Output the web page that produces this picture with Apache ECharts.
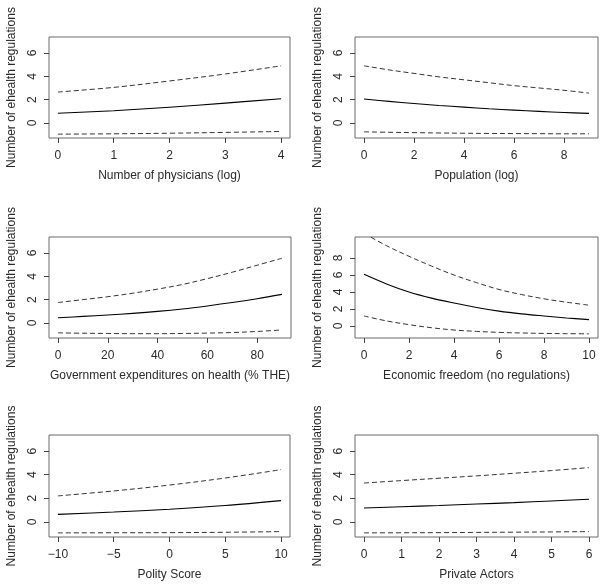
<!DOCTYPE html>
<html>
<head>
<meta charset="utf-8">
<script src="https://cdn.jsdelivr.net/npm/echarts@6/dist/echarts.min.js"></script>
<style>
html,body{margin:0;padding:0;background:#fff;}
#chart{width:600px;height:585px;}
</style>
</head>
<body>
<div id="chart"></div>
<script>
// ---- Data ----
const yTitle = "Number of ehealth regulations";

const physX = [0, 1, 2, 3, 4];
const physFit = [0.83, 1.05, 1.35, 1.7, 2.08];
const physUpper = [2.65, 3.05, 3.6, 4.2, 4.9];
const physLower = [-0.96, -0.93, -0.88, -0.81, -0.73];
const physTicks = [0, 1, 2, 3, 4];

const popX = [0, 1, 2, 3, 4, 5, 6, 7, 8, 9];
const popFit = [2.05, 1.85, 1.67, 1.5, 1.36, 1.22, 1.1, 0.99, 0.9, 0.82];
const popUpper = [4.9, 4.55, 4.25, 3.95, 3.7, 3.45, 3.2, 3.0, 2.8, 2.56];
const popLower = [-0.76, -0.8, -0.83, -0.86, -0.88, -0.9, -0.91, -0.92, -0.93, -0.93];
const popTicks = [0, 2, 4, 6, 8];

const govX = [0, 10, 20, 30, 40, 50, 60, 70, 80, 90];
const govFit = [0.45, 0.56, 0.68, 0.82, 0.99, 1.2, 1.46, 1.75, 2.08, 2.45];
const govUpper = [1.75, 2.0, 2.25, 2.55, 2.9, 3.3, 3.8, 4.35, 4.95, 5.55];
const govLower = [-0.85, -0.88, -0.9, -0.92, -0.92, -0.9, -0.87, -0.82, -0.73, -0.6];
const govTicks = [0, 20, 40, 60, 80];

const econX = [0, 1, 2, 3, 4, 5, 6, 7, 8, 9, 10];
const econFit = [6.08, 4.95, 4.0, 3.28, 2.7, 2.18, 1.75, 1.43, 1.18, 0.95, 0.75];
const econUpper = [10.9, 9.45, 8.2, 7.05, 6.0, 5.1, 4.3, 3.7, 3.2, 2.8, 2.45];
const econLower = [1.18, 0.6, 0.16, -0.2, -0.47, -0.63, -0.75, -0.82, -0.87, -0.9, -0.92];
const econTicks = [0, 2, 4, 6, 8, 10];

const polX = [-10, -5, 0, 5, 10];
const polFit = [0.63, 0.83, 1.07, 1.38, 1.8];
const polUpper = [2.2, 2.62, 3.12, 3.72, 4.43];
const polLower = [-0.94, -0.93, -0.92, -0.89, -0.83];
const polTicks = [-10, -5, 0, 5, 10];

const privX = [0, 1, 2, 3, 4, 5, 6];
const privFit = [1.17, 1.28, 1.39, 1.51, 1.63, 1.77, 1.91];
const privUpper = [3.29, 3.5, 3.7, 3.9, 4.12, 4.35, 4.6];
const privLower = [-0.94, -0.93, -0.92, -0.9, -0.88, -0.86, -0.83];
const privTicks = [0, 1, 2, 3, 4, 5, 6];

const yTicksStd = [0, 2, 4, 6];
const yTicksEcon = [0, 2, 4, 6, 8];

const panels = [
  { name: "Number of physicians (log)", x: physX, fit: physFit, up: physUpper, lo: physLower, xt: physTicks, yt: yTicksStd,
    grid: {left: 49, top: 37, width: 241, height: 101}, xr: [-0.16, 4.16], yr: [-1.29, 7.37] },
  { name: "Population (log)", x: popX, fit: popFit, up: popUpper, lo: popLower, xt: popTicks, yt: yTicksStd,
    grid: {left: 355, top: 37, width: 243, height: 101}, xr: [-0.36, 9.36], yr: [-1.29, 7.37] },
  { name: "Government expenditures on health (% THE)", x: govX, fit: govFit, up: govUpper, lo: govLower, xt: govTicks, yt: yTicksStd,
    grid: {left: 49, top: 237, width: 242, height: 101}, xr: [-3.6, 93.6], yr: [-1.29, 7.37] },
  { name: "Economic freedom (no regulations)", x: econX, fit: econFit, up: econUpper, lo: econLower, xt: econTicks, yt: yTicksEcon,
    grid: {left: 355, top: 237, width: 243, height: 101}, xr: [-0.4, 10.4], yr: [-1.41, 10.47] },
  { name: "Polity Score", x: polX, fit: polFit, up: polUpper, lo: polLower, xt: polTicks, yt: yTicksStd,
    grid: {left: 49, top: 435, width: 241, height: 102}, xr: [-10.8, 10.8], yr: [-1.29, 7.37] },
  { name: "Private Actors", x: privX, fit: privFit, up: privUpper, lo: privLower, xt: privTicks, yt: yTicksStd,
    grid: {left: 355, top: 435, width: 243, height: 102}, xr: [-0.24, 6.24], yr: [-1.29, 7.37] }
];

const FONT = "Liberation Sans, Arial, Helvetica, sans-serif";
const TXT = "#2a2a2a";
const fmt = v => String(v).replace('-', '\u2212');

const grids = [], xAxes = [], yAxes = [], series = [];
panels.forEach((p, i) => {
  grids.push(Object.assign({ show: true, borderColor: "#6a6a6a", borderWidth: 1, backgroundColor: "transparent" }, p.grid));
  xAxes.push({
    type: "value", gridIndex: i, min: p.xr[0], max: p.xr[1], position: "bottom",
    name: p.name, nameLocation: "middle", nameGap: 32,
    nameTextStyle: { fontFamily: FONT, fontSize: 12, color: TXT },
    axisLine: { show: false, onZero: false },
    axisTick: { show: true, length: 5, lineStyle: { color: "#444" }, customValues: p.xt },
    axisLabel: { show: true, margin: 12, fontFamily: FONT, fontSize: 12, color: TXT, customValues: p.xt, formatter: fmt },
    splitLine: { show: false }
  });
  yAxes.push({
    type: "value", gridIndex: i, min: p.yr[0], max: p.yr[1], position: "left",
    name: yTitle, nameLocation: "middle", nameGap: 31, nameRotate: 90,
    nameTextStyle: { fontFamily: FONT, fontSize: 12, color: TXT },
    axisLine: { show: false, onZero: false },
    axisTick: { show: true, length: 5, lineStyle: { color: "#444" }, customValues: p.yt },
    axisLabel: { show: true, margin: 10, rotate: 90, fontFamily: FONT, fontSize: 12, color: TXT, customValues: p.yt, formatter: fmt },
    splitLine: { show: false }
  });
  const mk = (vals, dashed) => ({
    type: "line", xAxisIndex: i, yAxisIndex: i,
    data: p.x.map((xv, k) => [xv, vals[k]]),
    smooth: 0.35, symbol: "none", silent: true, clip: true, animation: false,
    lineStyle: dashed ? { color: "#333", width: 1, type: [5, 3] } : { color: "#000", width: 1.1 }
  });
  series.push(mk(p.fit, false), mk(p.up, true), mk(p.lo, true));
});

const chart = echarts.init(document.getElementById("chart"), null, { renderer: "canvas" });
chart.setOption({
  backgroundColor: "#fff",
  animation: false,
  grid: grids, xAxis: xAxes, yAxis: yAxes, series: series
});
</script>
</body>
</html>
